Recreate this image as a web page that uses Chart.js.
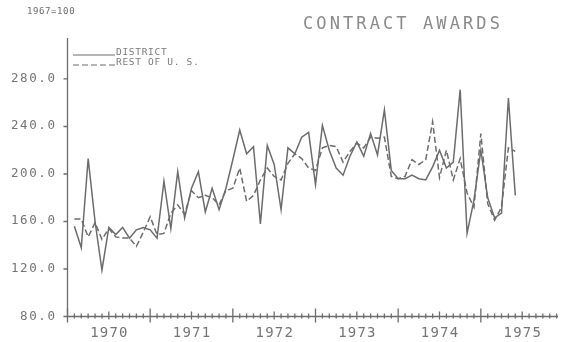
<!DOCTYPE html>
<html>
<head>
<meta charset="utf-8">
<title>Contract Awards</title>
<script src="https://cdn.jsdelivr.net/npm/chart.js@4/dist/chart.umd.min.js"></script>
<style>
  html, body { margin: 0; padding: 0; background: #fff; }
  #wrap { width: 562px; height: 342px; }
</style>
</head>
<body>
<div id="wrap"><canvas id="awardsChart" width="562" height="342"></canvas></div>
<script>
// Monthly index values, 1967=100, one entry per month
const district = [156, 138, 213, 160, 119, 155, 149, 155, 146, 153,
                  155, 153, 146, 194, 154, 202, 163, 188, 202, 168,
                  188, 170, 188, 212, 237, 217, 223, 158, 224, 208,
                  170, 222, 217, 231, 235, 191, 241, 220, 205, 199,
                  215, 227, 215, 234, 216, 254, 203, 196, 196, 199,
                  196, 195, 206, 220, 205, 210, 271, 150, 178, 220,
                  180, 163, 167, 264, 182];
const restOfUS = [162, 162, 147, 159, 145, 154, 147, 146, 146, 139,
                  151, 164, 149, 150, 167, 174, 166, 186, 180, 182,
                  180, 174, 186, 188, 205, 177, 182, 195, 205, 198,
                  195, 209, 217, 213, 205, 203, 222, 224, 223, 210,
                  219, 226, 222, 231, 230, 231, 198, 196, 198, 212,
                  208, 212, 244, 197, 220, 195, 213, 184, 172, 234,
                  175, 161, 172, 222, 219];
const seriesNames = ['DISTRICT', 'REST OF U. S.'];
const yearLabels = ['1970', '1971', '1972', '1973', '1974', '1975'];
const yTicks = [80, 120, 160, 200, 240, 280];

const INK = '#6c6c6c';
const MONO = '"DejaVu Sans Mono", "Liberation Mono", monospace';

function toPoints(values) {
    return values.map((v, i) => ({ x: i, y: v }));
}

function spacedText(ctx, text, x, y, font, spacing, align) {
    ctx.font = font;
    ctx.letterSpacing = spacing + 'px';
    let w = ctx.measureText(text).width - spacing;
    let sx = x;
    if (align === 'right') sx = x - w;
    if (align === 'center') sx = x - w / 2;
    ctx.textAlign = 'left';
    ctx.fillText(text, sx, y);
}

// axes, tick marks, labels and legend drawn plotter style
const plotterFrame = {
    id: 'plotterFrame',
    afterDraw(chart) {
        const { ctx, chartArea: area, scales: { x, y } } = chart;
        ctx.save();
        ctx.strokeStyle = INK;
        ctx.fillStyle = INK;
        ctx.lineWidth = 1.3;

        ctx.beginPath();
        ctx.moveTo(area.left, area.top);
        ctx.lineTo(area.left, area.bottom);
        ctx.lineTo(area.right, area.bottom);
        ctx.stroke();

        // month ticks, long at year ends, medium at mid year
        ctx.beginPath();
        for (let m = Math.ceil(x.min); m <= x.max; m++) {
            const px = x.getPixelForValue(m);
            const pos = ((m + 1) % 12 + 12) % 12;
            let up = 3, down = 2;
            if (pos === 0) { up = 8; down = 6; }
            else if (pos === 6) { up = 5; down = 3; }
            ctx.moveTo(px, area.bottom - up);
            ctx.lineTo(px, area.bottom + down);
        }
        ctx.stroke();

        ctx.fillStyle = '#747474';
        ctx.textBaseline = 'alphabetic';
        yearLabels.forEach((lbl, i) => {
            const px = x.getPixelForValue(5 + 12 * i);
            spacedText(ctx, lbl, px, area.bottom + 20, '14px ' + MONO, 1.2, 'center');
        });

        ctx.beginPath();
        yTicks.forEach(v => {
            const py = y.getPixelForValue(v);
            ctx.moveTo(area.left - 4, py);
            ctx.lineTo(area.left, py);
        });
        ctx.stroke();
        yTicks.forEach(v => {
            const py = y.getPixelForValue(v);
            spacedText(ctx, v.toFixed(1), 55, py + 3, '12.5px ' + MONO, 1.6, 'right');
        });

        ctx.fillStyle = INK;
        spacedText(ctx, '1967=100', 27, 13.5, '9px ' + MONO, 0.6, 'left');

        ctx.fillStyle = '#8a8a8a';
        spacedText(ctx, 'CONTRACT AWARDS', 303, 28.5, '17px ' + MONO, 3.1, 'left');

        // legend
        ctx.fillStyle = '#7a7a7a';
        const sets = chart.data.datasets;
        [55, 65].forEach((ly, i) => {
            ctx.lineWidth = 1.1;
            ctx.setLineDash(sets[i].borderDash || []);
            ctx.beginPath();
            ctx.moveTo(73, ly);
            ctx.lineTo(115, ly);
            ctx.stroke();
            ctx.setLineDash([]);
            spacedText(ctx, seriesNames[i], 116, ly - 0.5, '9.5px ' + MONO, 0.7, 'left');
        });
        ctx.restore();
    }
};

const ctx = document.getElementById('awardsChart').getContext('2d');
const chart = new Chart(ctx, {
    type: 'line',
    data: {
        datasets: [{
            label: seriesNames[0],
            data: toPoints(district),
            borderColor: INK,
            borderWidth: 1.5,
            pointRadius: 0,
            tension: 0
        }, {
            label: seriesNames[1],
            data: toPoints(restOfUS),
            borderColor: INK,
            borderWidth: 1.5,
            borderDash: [6, 3],
            pointRadius: 0,
            tension: 0
        }]
    },
    options: {
        responsive: false,
        animation: false,
        devicePixelRatio: 1,
        layout: { padding: { left: 67.5, right: 4, top: 38, bottom: 25.5 } },
        scales: {
            x: { type: 'linear', min: -1, max: 70.2, display: false },
            y: { min: 80, max: 314.5, display: false }
        },
        plugins: {
            legend: { display: false },
            tooltip: { enabled: false }
        }
    },
    plugins: [plotterFrame]
});
</script>
</body>
</html>
